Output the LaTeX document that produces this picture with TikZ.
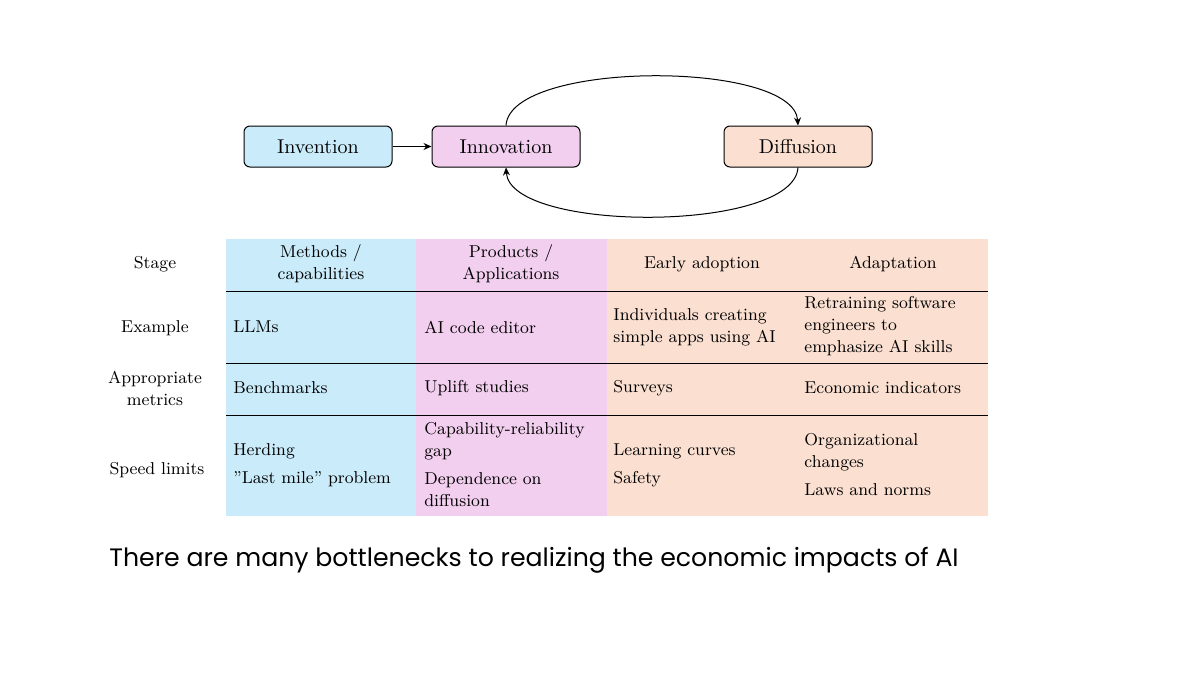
\documentclass[tikz,border=0pt]{standalone}
\usepackage{fontspec}
\newfontfamily\capfont{Poppins}
\usetikzlibrary{arrows.meta}
\definecolor{cblue}{HTML}{CAECFA}
\definecolor{cpink}{HTML}{F2CEEF}
\definecolor{cpeach}{HTML}{FBE0D2}
\begin{document}
\begin{tikzpicture}[x=0.5pt,y=-0.5pt,
  box/.style={draw=black,rounded corners=3pt,minimum width=74pt,minimum height=20.5pt,font=\fontsize{10}{12}\selectfont,line width=0.5pt},
  cell/.style={anchor=west,align=left,font=\fontsize{8.6}{11}\selectfont,inner sep=0pt},
  hdr/.style={align=center,font=\fontsize{8.6}{11}\selectfont,inner sep=0pt},
  arr/.style={-{Stealth[length=4pt,width=3.5pt]},line width=0.5pt}]
\useasboundingbox (0,0) rectangle (1200,675);
\fill[white] (0,0) rectangle (1200,675);
% top flow
\node[box,fill=cblue] (inv) at (318,146.5) {Invention};
\node[box,fill=cpink] (inn) at (506,146.5) {Innovation};
\node[box,fill=cpeach] (dif) at (798,146.5) {Diffusion};
\draw[arr] (inv) -- (inn);
\draw[arr] (inn.north) .. controls (510,60) and (794,60) .. (dif.north);
\draw[arr] (dif.south) .. controls (794,233) and (510,233) .. (inn.south);
% table backgrounds
\fill[cblue] (226,239) rectangle (416,516);
\fill[cpink] (416,239) rectangle (607,516);
\fill[cpeach] (607,239) rectangle (988,516);
\coordinate (l1) at (226,291); \coordinate (r1) at (988,291);
\coordinate (l2) at (226,363); \coordinate (r2) at (988,363);
\coordinate (l3) at (226,415); \coordinate (r3) at (988,415);
\draw[line width=0.5pt] (l1) -- (r1) (l2) -- (r2) (l3) -- (r3);
% row labels
\node[hdr] (s1) at (155,264) {Stage};
\node[hdr] (s2) at (155,328) {Example};
\node[hdr] (s3) at (155,388) {Appropriate\\metrics};
\node[hdr] (s4) at (157,470) {Speed limits};
% header
\node[hdr] (h1) at (321,264) {Methods /\\capabilities};
\node[hdr] (h2) at (511,264) {Products /\\Applications};
\node[hdr] (h3) at (702,264) {Early adoption};
\node[hdr] (h4) at (893,264) {Adaptation};
% example
\node[cell] (e1) at (233,327) {LLMs};
\node[cell] (e2) at (424,327) {AI code editor};
\node[cell] (e3) at (613,327) {Individuals creating\\simple apps using AI};
\node[cell] (e4) at (804,326) {Retraining software\\engineers to\\emphasize AI skills};
% metrics
\node[cell] (m1) at (233,388) {Benchmarks};
\node[cell] (m2) at (424,388) {Uplift studies};
\node[cell] (m3) at (613,388) {Surveys};
\node[cell] (m4) at (804,388) {Economic indicators};
% speed limits
\node[cell] (p1) at (233,465) {Herding\\[3pt]"Last mile" problem};
\node[cell] (p2) at (424,465) {Capability-reliability\\gap\\[3pt]Dependence on\\diffusion};
\node[cell] (p3) at (613,465) {Learning curves\\[3pt]Safety};
\node[cell] (p4) at (804,465) {Organizational\\changes\\[3pt]Laws and norms};
% caption
\node[anchor=west,inner sep=0pt,font=\capfont\fontsize{12.6}{15}\selectfont] (cap) at (109,560) {There are many bottlenecks to realizing the economic impacts of AI};
\end{tikzpicture}
\end{document}
